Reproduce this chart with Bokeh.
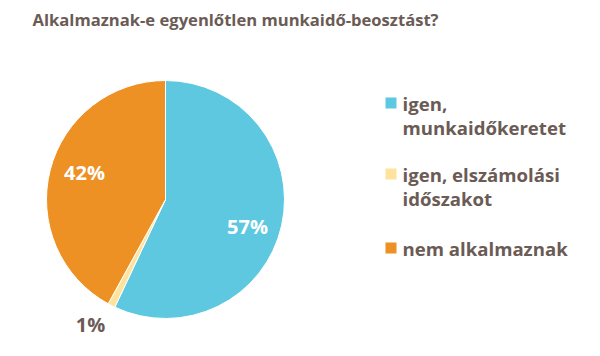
import numpy as np
from bokeh.plotting import figure
from bokeh.models import Range1d, ColumnDataSource
from bokeh.core.properties import value
from bokeh.embed import file_html
from bokeh.resources import INLINE

title_text = "Alkalmaznak-e egyenlőtlen munkaidő-beosztást?"
categories = ["igen, munkaidőkeretet", "igen, elszámolási időszakot", "nem alkalmaznak"]
legend_lines = [["igen,", "munkaidőkeretet"], ["igen, elszámolási", "időszakot"], ["nem alkalmaznak"]]
shares = [57, 1, 42]
pct_labels = ["57%", "1%", "42%"]
colors = ["#5fc8e1", "#fde39c", "#ee9125"]
label_colors = ["white", "#6b5b55", "white"]

W, H = 584, 340
FONT = "Open Sans"
TXT = "#6b5b55"

def px(x, y):
    # convert reference image pixel to data coords
    return x, H - y

p = figure(width=W, height=H, output_backend="svg", toolbar_location=None,
           x_range=Range1d(0, W), y_range=Range1d(0, H), min_border=0)
p.axis.visible = False
p.grid.visible = False
p.outline_line_color = None
p.background_fill_color = "white"

# pie
cx, cy = px(165, 199)
R = 119
vals = np.array(shares, dtype=float)
frac = vals / vals.sum()
ends = np.pi / 2 - 2 * np.pi * np.cumsum(frac)
starts = np.concatenate([[np.pi / 2], ends[:-1]])
src = ColumnDataSource(dict(start=starts, end=ends, color=colors))
p.wedge(x=cx, y=cy, radius=R, radius_units="screen", start_angle="start", end_angle="end",
        direction="clock", fill_color="color", line_color="white", line_width=1, source=src)

# percentage labels (layout positions)
lab_pos = [px(247, 226), px(90, 324), px(84, 172)]
p.text(x=[a for a, b in lab_pos], y=[b for a, b in lab_pos], text=pct_labels,
       text_color=label_colors, text_font=value(FONT), text_font_style="bold",
       text_font_size="20px", text_align="center", text_baseline="middle")

# title
tx, ty = px(32, 19)
p.text(x=[tx], y=[ty], text=[title_text], text_color=TXT, text_font=value(FONT),
       text_font_style="bold", text_font_size="16.6px", text_baseline="middle")

# legend
sq_y = [102.5, 173.5, 247.5]
for i, lines in enumerate(legend_lines):
    sx, sy = px(390.5, sq_y[i])
    p.rect(x=[sx], y=[sy], width=11, height=11, width_units="screen", height_units="screen",
           fill_color=colors[i], line_color=None)
    for j, ln in enumerate(lines):
        lx, ly = px(402, sq_y[i] + 24 * j)
        p.text(x=[lx], y=[ly], text=[ln], text_color=TXT, text_font=value(FONT),
               text_font_style="bold", text_font_size="18.6px", text_baseline="middle")

open("out.html", "w").write(file_html(p, INLINE))
